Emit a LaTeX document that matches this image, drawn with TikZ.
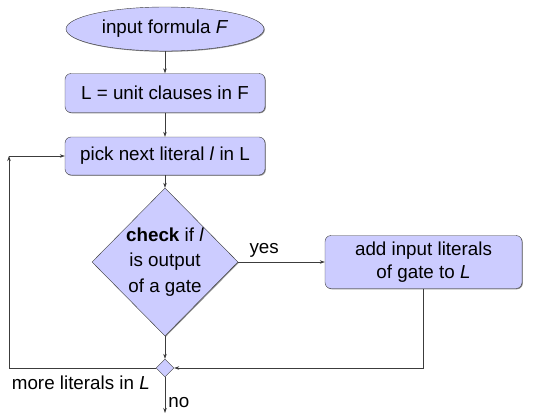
\documentclass[tikz,border=0pt]{standalone}
\usepackage{fontspec}
\setmainfont{Liberation Sans}
\usetikzlibrary{shapes.geometric,arrows.meta,shadows}
\definecolor{fillc}{RGB}{204,204,255}
\definecolor{linec}{RGB}{60,60,60}
\tikzset{
  x=1pt,y=-1pt,
  every node/.style={font=\fontsize{18.8}{24}\selectfont},
  shad/.style={drop shadow={shadow xshift=0.8pt,shadow yshift=-0.8pt,opacity=0.45,fill=black}},
  boxstyle/.style={draw=linec,fill=fillc,rounded corners=6pt,inner sep=0pt,align=center,shad},
  arr/.style={draw=linec,line width=0.6pt,-{Stealth[length=5pt,width=3.5pt]}},
  ln/.style={draw=linec,line width=0.6pt}
}
\begin{document}
\begin{tikzpicture}
\useasboundingbox (0,0) rectangle (533,418);
\node[ellipse,draw=linec,fill=fillc,minimum width=198pt,minimum height=44pt,inner sep=0pt,shad] (in) at (165,29) {input formula \textit{F}};
\node[boxstyle,minimum width=200pt,minimum height=39pt] (b1) at (165,93) {L = unit clauses in F};
\node[boxstyle,minimum width=200pt,minimum height=38pt] (b2) at (165,156) {pick next literal \textit{l} in L};
\node[diamond,draw=linec,fill=fillc,minimum width=146pt,minimum height=148pt,inner sep=0pt,shad] (d) at (165,262) {};
\node[align=center,inner sep=0pt,font=\fontsize{18.8}{25.5}\selectfont] (dt) at (d.center) {\textbf{check} if \textit{l}\\is output\\of a gate};
\node[boxstyle,minimum width=197pt,minimum height=53pt,font=\fontsize{18.8}{23}\selectfont] (b3) at (423.5,262) {add input literals\\of gate to \textit{L}};
\node[diamond,draw=linec,fill=fillc,minimum width=18pt,minimum height=18pt,inner sep=0pt] (m) at (165,368) {};
\node[anchor=east,inner sep=0pt] (ml) at (150,383) {more literals in \textit{L}};
\coordinate (c1) at (9,156);
\coordinate (end) at (165,413);
\draw[arr] (in) -- (b1);
\draw[arr] (b1) -- (b2);
\draw[arr] (b2) -- (d);
\draw[arr] (d.east) -- node[above,pos=0.3,inner sep=4pt] (yes) {yes} (b3.west);
\draw[arr] (d.south) -- (m.north);
\draw[arr] (b3.south) |- (m.east);
\draw[arr] (m.west) -| (c1);
\draw[arr] (c1) -- (b2.west);
\draw[arr] (m.south) -- node[right,pos=0.72,inner sep=3pt] (no) {no} (end);
\end{tikzpicture}
\end{document}
